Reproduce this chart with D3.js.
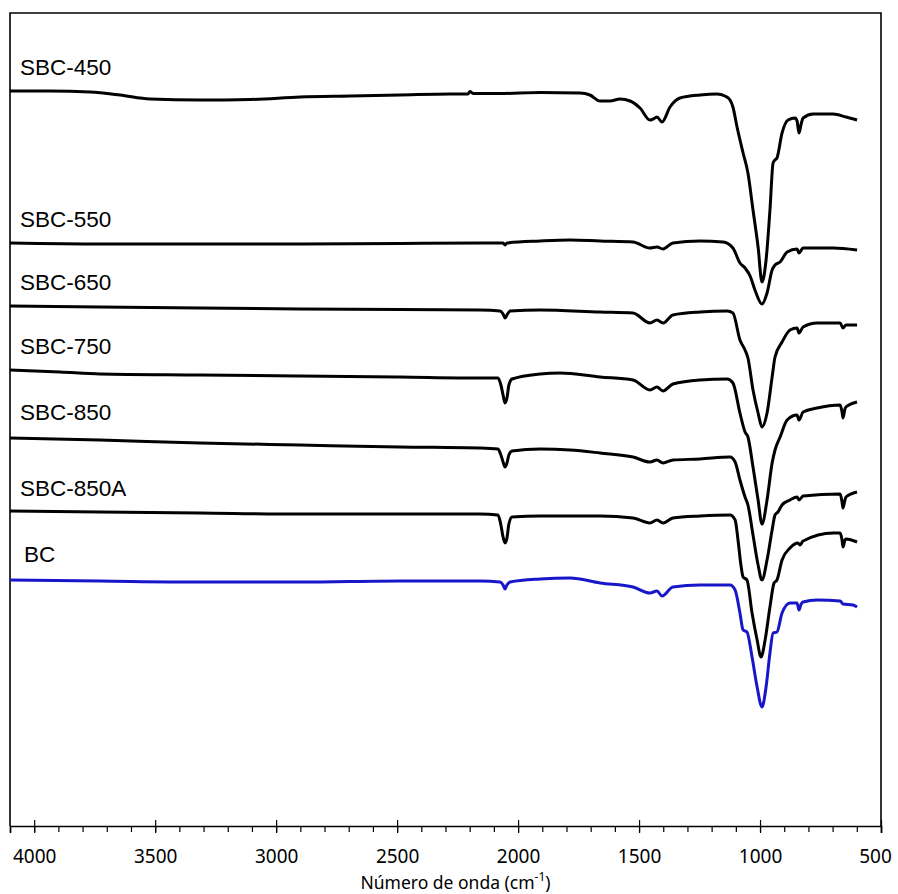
<!DOCTYPE html>
<html>
<head>
<meta charset="utf-8">
<script src="https://cdn.jsdelivr.net/npm/d3@7"></script>
<style>
  body { margin: 0; background: #fff; }
  svg { display: block; }
</style>
</head>
<body>
<svg id="chart" width="898" height="894"></svg>
<script>
// FTIR spectra, stacked (transmittance, arbitrary units with offsets)
const seriesNames = ["SBC-450", "SBC-550", "SBC-650", "SBC-750", "SBC-850", "SBC-850A", "BC"];
const seriesColors = ["#000", "#000", "#000", "#000", "#000", "#000", "#1717c9"];

const wn450 = [4100,3935,3769,3645,3521,3315,3108,2901,2695,2488,2281,2207,2199,2186,2075,1909,1744,1703,1661,1620,1579,1537,1496,1455,1434,1426,1405,1372,1331,1248,1178,1145,1124,1112,1095,1070,1050,1029,1008,992,975,959,946,938,930,909,884,855,847,839,830,822,781,698,645,599];
const t450  = [73.5,73.5,73.4,73.1,72.7,72.6,72.65,72.9,73.0,73.1,73.2,73.2,73.45,73.25,73.25,73.35,73.3,73.1,72.5,72.5,72.7,72.5,71.8,70.6,70.8,70.9,70.4,71.9,72.8,73.1,73.2,73.0,72.6,71.9,69.9,67.3,65.3,61.6,57.9,54.4,56.6,61.6,66.3,66.6,66.8,69.3,70.6,70.8,70.5,69.3,70.2,70.8,71.2,71.2,70.9,70.6];

const wn550 = [4100,3728,3315,2901,2488,2157,2062,2054,2046,1909,1785,1661,1525,1455,1426,1401,1360,1248,1153,1112,1083,1062,1041,1021,992,971,950,938,917,888,847,839,822,698,599];
const t550  = [58.3,58.2,58.2,58.2,58.25,58.3,58.3,58.1,58.3,58.5,58.6,58.5,58.4,57.8,57.9,57.7,58.3,58.5,58.4,57.8,56.3,55.8,55.0,53.6,52.2,53.3,55.6,56.1,56.4,57.4,57.7,57.3,57.8,57.8,57.6];

const wn650 = [4100,3728,3315,2901,2488,2157,2075,2062,2054,2046,2033,1909,1661,1525,1455,1426,1401,1360,1248,1136,1112,1083,1062,1050,1029,1008,992,971,950,938,909,876,847,839,822,764,669,657,645,599];
const t650  = [52.0,51.9,51.8,51.7,51.65,51.6,51.5,51.2,50.8,51.1,51.5,51.6,51.4,51.3,50.3,50.6,50.3,51.1,51.4,51.5,51.3,48.6,47.6,46.8,43.6,41.3,39.9,41.3,44.9,46.9,48.4,49.6,49.8,49.3,49.9,50.3,50.3,49.8,50.1,50.1];

const wn750 = [4100,3893,3728,3315,2901,2488,2157,2083,2071,2062,2054,2046,2038,2025,1909,1827,1661,1525,1455,1426,1401,1360,1248,1136,1112,1083,1062,1050,1029,1008,992,971,950,938,917,888,847,839,822,764,669,661,657,649,645,599];
const t750  = [45.6,45.4,45.2,45.1,45.0,44.9,44.8,44.8,44.1,43.1,42.3,42.8,44.1,44.7,45.2,45.3,44.9,44.6,43.6,43.9,43.5,44.2,44.6,44.7,44.3,41.3,39.4,38.9,35.9,32.6,30.2,32.6,36.3,37.6,38.9,40.6,41.1,40.6,41.4,41.8,42.1,41.4,40.8,41.7,41.9,42.4];

const wn850 = [4100,3728,3315,2901,2488,2157,2083,2071,2062,2054,2046,2038,2025,1909,1785,1661,1525,1455,1426,1401,1360,1248,1124,1103,1083,1062,1050,1029,1008,992,971,950,938,926,909,876,847,839,822,669,661,657,649,645,599];
const t850  = [38.8,38.6,38.3,38.1,37.9,37.8,37.7,37.1,36.4,35.9,36.3,37.1,37.5,37.7,37.6,37.3,36.9,36.4,36.6,36.3,36.6,36.7,36.9,36.4,34.6,32.9,32.1,29.1,26.1,24.6,26.6,29.6,31.1,31.4,32.1,32.6,32.9,32.6,33.0,33.2,32.4,31.8,32.6,32.9,33.4];

const wn850A = [4100,3728,3315,2901,2488,2157,2083,2071,2062,2054,2046,2038,2025,1909,1661,1525,1455,1426,1401,1360,1248,1124,1103,1091,1079,1070,1054,1033,1012,996,979,959,942,930,909,876,843,835,822,698,669,661,657,649,645,599];
const t850A  = [31.5,31.4,31.3,31.2,31.2,31.2,31.1,30.1,28.9,28.3,28.8,30.2,30.9,31.0,31.0,30.8,30.3,30.6,30.3,30.8,31.0,31.1,30.6,28.6,26.1,24.9,24.6,21.3,18.6,16.9,18.6,21.9,24.3,24.6,26.6,27.8,28.3,28.1,28.5,29.3,29.3,28.6,27.9,28.6,28.7,28.4];

const wnBC = [4100,3728,3315,2901,2488,2157,2075,2062,2054,2046,2033,1909,1785,1661,1525,1455,1426,1405,1360,1248,1124,1103,1083,1070,1054,1033,1012,992,975,959,946,930,909,876,847,839,830,822,764,669,657,616,599];
const tBC  = [24.6,24.5,24.4,24.4,24.5,24.5,24.4,24.1,23.7,24.1,24.4,24.7,24.8,24.3,23.9,23.3,23.5,23.0,23.9,24.1,24.1,23.6,21.3,19.6,19.4,16.9,13.9,11.9,13.9,17.3,19.3,19.4,21.3,22.3,22.3,21.6,22.2,22.4,22.6,22.5,22.2,22.1,21.9];

const seriesWn = [wn450, wn550, wn650, wn750, wn850, wn850A, wnBC];
const seriesT  = [t450, t550, t650, t750, t850, t850A, tBC];
// Transmittance level at which each sample name is written
const labelLevels = [75.1, 59.9, 53.6, 47.2, 40.6, 33.0, 26.4];

const majorTicks = [4000, 3500, 3000, 2500, 2000, 1500, 1000, 500];
const minorTicks = d3.range(4100, 499, -100);

const svg = d3.select("#chart");
const plot = { left: 10, right: 881, top: 13, bottom: 826 };

const x = d3.scaleLinear().domain([4100, 500]).range([plot.left, plot.right]);
const y = d3.scaleLinear().domain([0, 81.3]).range([plot.bottom, plot.top]);

// plot frame
svg.append("path")
  .attr("d", `M${plot.left},${plot.bottom}V${plot.top}H${plot.right}V${plot.bottom}`)
  .attr("fill", "none").attr("stroke", "#000").attr("stroke-width", 1.6);

// minor ticks
const minorAxis = svg.append("g")
  .attr("transform", `translate(0,${plot.bottom})`)
  .call(d3.axisBottom(x).tickValues(minorTicks).tickSize(6).tickFormat(""));
minorAxis.select(".domain").remove();
minorAxis.selectAll("line").attr("stroke", "#000").attr("stroke-width", 1.2);

// major ticks with labels
const majorAxis = svg.append("g")
  .attr("transform", `translate(0,${plot.bottom})`)
  .call(d3.axisBottom(x).tickValues(majorTicks).tickSize(7).tickPadding(17).tickFormat(d3.format("d")));
majorAxis.select(".domain").attr("stroke", "#000").attr("stroke-width", 1.6);
majorAxis.selectAll(".tick line").attr("y1", -6).attr("stroke", "#000").attr("stroke-width", 1.2);
majorAxis.selectAll(".tick text")
  .attr("font-family", "'Noto Sans', 'Open Sans', sans-serif")
  .attr("font-size", 19).attr("fill", "#000");
// keep the last label inside the canvas
majorAxis.selectAll(".tick text").filter(d => d === 500).attr("dx", -6);

// axis title
const title = svg.append("text")
  .attr("x", (plot.left + plot.right) / 2 + 10).attr("y", 889)
  .attr("text-anchor", "middle")
  .attr("font-family", "'Noto Sans', 'Open Sans', sans-serif")
  .attr("font-size", 17.5).attr("fill", "#000");
title.append("tspan").text("Número de onda (cm");
title.append("tspan").attr("dy", -8).attr("font-size", 12).text("-1");
title.append("tspan").attr("dy", 8).text(")");

// spectra
const line = d3.line()
  .x(d => x(d[0]))
  .y(d => y(d[1]))
  .curve(d3.curveMonotoneX);

seriesNames.forEach((name, i) => {
  const pts = seriesWn[i].map((w, j) => [w, seriesT[i][j]]);
  svg.append("path")
    .datum(pts)
    .attr("d", line)
    .attr("fill", "none")
    .attr("stroke", seriesColors[i])
    .attr("stroke-width", 3)
    .attr("stroke-linejoin", "round");
  svg.append("text")
    .attr("x", i === 6 ? 24 : 20)
    .attr("y", y(labelLevels[i]))
    .attr("font-family", "'Liberation Sans', Arial, sans-serif")
    .attr("font-size", 22.5)
    .attr("fill", "#000")
    .text(name);
});
</script>
</body>
</html>
